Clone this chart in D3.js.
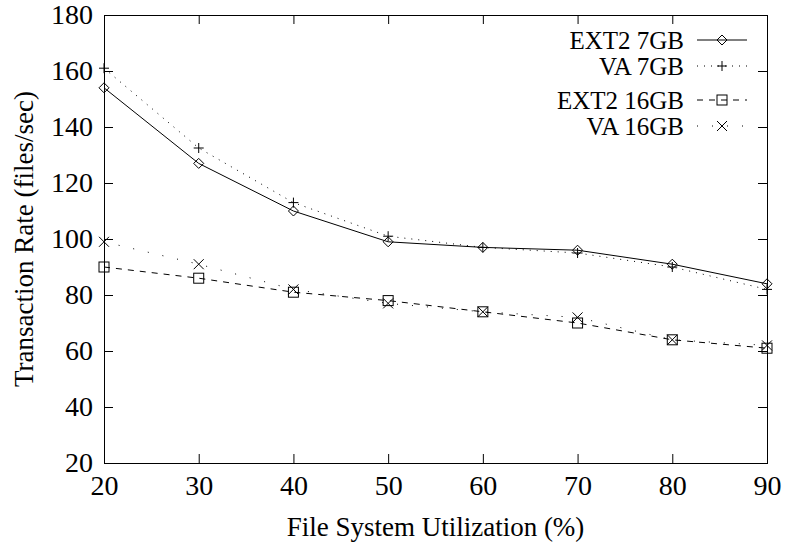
<!DOCTYPE html>
<html>
<head>
<meta charset="utf-8">
<script src="https://cdn.jsdelivr.net/npm/d3@7"></script>
<style>
  body { margin: 0; background: #fff; }
</style>
</head>
<body>
<div id="chart"></div>
<script>
// data
var utilization = [20, 30, 40, 50, 60, 70, 80, 90];
var ext2_7gb  = [154, 127, 110, 99, 97, 96, 91, 84];
var va_7gb    = [161, 132.5, 113, 101, 97, 95, 90, 82];
var ext2_16gb = [90, 86, 81, 78, 74, 70, 64, 61];
var va_16gb   = [99, 91, 82, 77, 74, 72, 64, 62];
var yTicks = [20, 40, 60, 80, 100, 120, 140, 160, 180];
var xTicks = [20, 30, 40, 50, 60, 70, 80, 90];

var series = [
  { name: 'EXT2 7GB', values: ext2_7gb, dash: null, marker: 'diamond' },
  { name: 'VA 7GB', values: va_7gb, dash: '1,6', marker: 'plus' },
  { name: 'EXT2 16GB', values: ext2_16gb, dash: '6,6', marker: 'square' },
  { name: 'VA 16GB', values: va_16gb, dash: '1,14', marker: 'cross' }
];

var serif = "'Liberation Serif', 'Times New Roman', Times, serif";

// svg area
var svgWidth = 786;
var svgHeight = 555;
var margin = { top: 15, left: 104, right: 19, bottom: 92 };
var width = svgWidth - margin.left - margin.right;
var height = svgHeight - margin.top - margin.bottom;

var svg = d3.select('#chart')
  .append('svg')
  .attr('width', svgWidth)
  .attr('height', svgHeight)
  .style('font-family', serif);

var chartGroup = svg.append('g')
  .attr('transform', `translate(${margin.left}, ${margin.top})`);

var x = d3.scaleLinear().domain([20, 90]).range([0, width]);
var y = d3.scaleLinear().domain([20, 180]).range([height, 0]);

// ticks on all four sides, pointing inwards
var tickLen = 9;
var tickFont = 28;
chartGroup.append('g')
  .attr('transform', `translate(0, ${height})`)
  .call(d3.axisBottom(x).tickValues(xTicks).tickSizeInner(-tickLen).tickSizeOuter(0).tickPadding(12))
  .call(g => g.select('.domain').remove());
chartGroup.append('g')
  .call(d3.axisTop(x).tickValues(xTicks).tickSizeInner(-tickLen).tickSizeOuter(0).tickFormat(''))
  .call(g => g.select('.domain').remove());
chartGroup.append('g')
  .call(d3.axisLeft(y).tickValues(yTicks).tickSizeInner(-tickLen).tickSizeOuter(0).tickPadding(11))
  .call(g => g.select('.domain').remove());
chartGroup.append('g')
  .attr('transform', `translate(${width}, 0)`)
  .call(d3.axisRight(y).tickValues(yTicks).tickSizeInner(-tickLen).tickSizeOuter(0).tickFormat(''))
  .call(g => g.select('.domain').remove());

chartGroup.selectAll('.tick line').attr('stroke', '#000');
chartGroup.selectAll('.tick text')
  .attr('fill', '#000')
  .style('font-family', serif)
  .style('font-size', tickFont + 'px');

// frame
chartGroup.append('rect')
  .attr('width', width)
  .attr('height', height)
  .attr('fill', 'none')
  .attr('stroke', '#000')
  .attr('shape-rendering', 'crispEdges');

// markers
function drawMarker(g, type, cx, cy) {
  var s = 5;
  if (type === 'diamond') {
    g.append('path').attr('d', `M${cx - s},${cy}L${cx},${cy - s}L${cx + s},${cy}L${cx},${cy + s}Z`)
      .attr('fill', 'none').attr('stroke', '#000');
  } else if (type === 'plus') {
    g.append('path').attr('d', `M${cx - s},${cy}H${cx + s}M${cx},${cy - s}V${cy + s}`)
      .attr('stroke', '#000');
  } else if (type === 'square') {
    g.append('rect').attr('x', cx - s).attr('y', cy - s).attr('width', 2 * s).attr('height', 2 * s)
      .attr('fill', 'none').attr('stroke', '#000');
  } else if (type === 'cross') {
    g.append('path').attr('d', `M${cx - s},${cy - s}L${cx + s},${cy + s}M${cx - s},${cy + s}L${cx + s},${cy - s}`)
      .attr('stroke', '#000');
  }
}

var line = d3.line()
  .x((d, i) => x(utilization[i]))
  .y(d => y(d));

series.forEach(function (s) {
  chartGroup.append('path')
    .datum(s.values)
    .attr('d', line)
    .attr('fill', 'none')
    .attr('stroke', '#000')
    .attr('stroke-width', 1)
    .attr('stroke-dasharray', s.dash);
  var mg = chartGroup.append('g');
  s.values.forEach(function (v, i) {
    drawMarker(mg, s.marker, x(utilization[i]), y(v));
  });
});

// legend
var legendRows = [40, 66, 100, 126];
var legend = svg.append('g');
series.forEach(function (s, i) {
  var ly = legendRows[i];
  legend.append('text')
    .attr('x', 684)
    .attr('y', ly)
    .attr('dy', '0.35em')
    .attr('text-anchor', 'end')
    .style('font-size', '25px')
    .text(s.name);
  legend.append('line')
    .attr('x1', 697).attr('x2', 747)
    .attr('y1', ly).attr('y2', ly)
    .attr('stroke', '#000')
    .attr('stroke-dasharray', s.dash);
  drawMarker(legend, s.marker, 722, ly);
});

// axis titles
svg.append('text')
  .attr('x', margin.left + width / 2)
  .attr('y', 536)
  .attr('text-anchor', 'middle')
  .style('font-size', '27px')
  .text('File System Utilization (%)');

svg.append('text')
  .attr('transform', `translate(33, ${margin.top + height / 2}) rotate(-90)`)
  .attr('text-anchor', 'middle')
  .style('font-size', '27px')
  .text('Transaction Rate (files/sec)');
</script>
</body>
</html>
